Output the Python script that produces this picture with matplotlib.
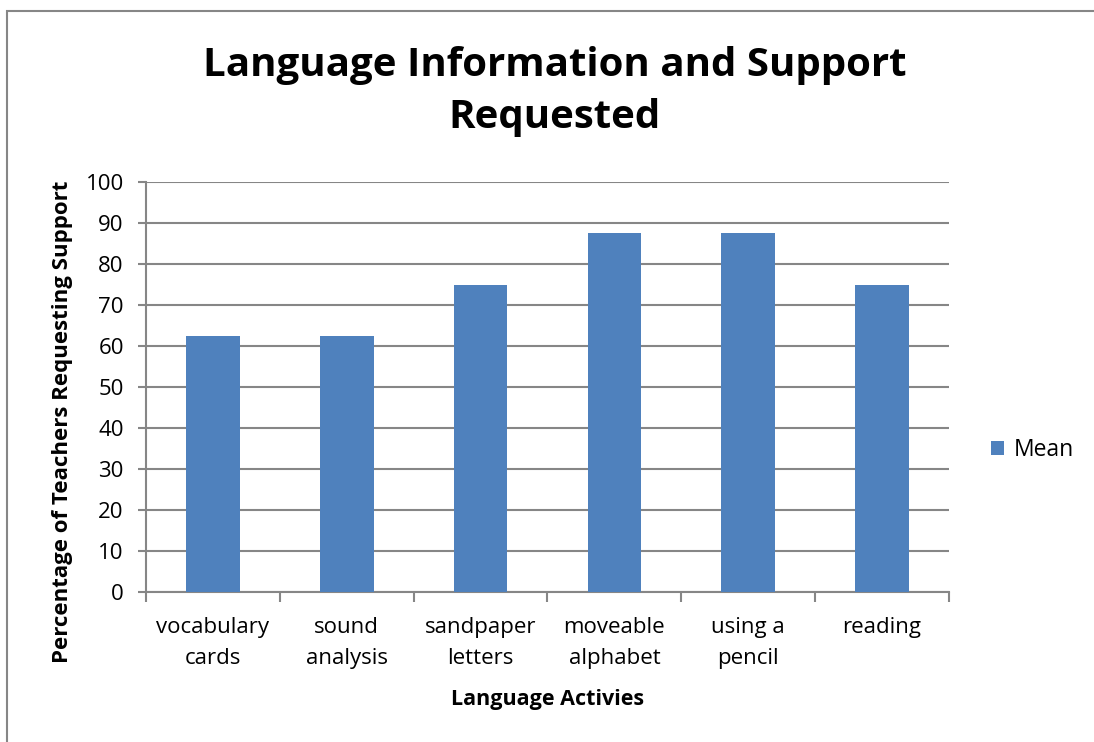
import matplotlib.pyplot as plt
from matplotlib.patches import Rectangle

plt.rcParams['font.family'] = ['Open Sans', 'DejaVu Sans']

activities = ['vocabulary\ncards', 'sound\nanalysis', 'sandpaper\nletters',
              'moveable\nalphabet', 'using a\npencil', 'reading']
mean_values = [62.5, 62.5, 75, 87.5, 87.5, 75]
y_ticks = [0, 10, 20, 30, 40, 50, 60, 70, 80, 90, 100]

bar_color = '#4f81bd'
grid_color = '#868686'

fig = plt.figure(figsize=(10.94, 7.42), dpi=100)

# outer chart border (open on right/bottom like the cropped original)
fig.patches.append(Rectangle((7 / 1094, -0.1), 1.2, (742 - 11) / 742 + 0.1,
                             transform=fig.transFigure, fill=False,
                             edgecolor=grid_color, linewidth=1.5))

ax = fig.add_axes([146 / 1094, 1 - 592 / 742, 803 / 1094, 410 / 742])
x = range(len(activities))
ax.bar(x, mean_values, width=0.4, color=bar_color, label='Mean', zorder=3)

ax.set_xlim(-0.5, len(activities) - 0.5)
ax.set_ylim(0, 100)
ax.set_yticks(y_ticks)
ax.tick_params(axis='y', length=6, width=1.5, color=grid_color,
               labelsize=16, pad=10)
ax.yaxis.grid(True, color=grid_color, linewidth=1.5, zorder=0)

# category boundaries get the tick marks, labels sit in the middle
ax.set_xticks([i + 0.5 for i in range(-1, len(activities))], minor=False)
ax.set_xticklabels([''] * (len(activities) + 1))
ax.tick_params(axis='x', length=7, width=1.5, color=grid_color)
ax.set_xticks(list(x), minor=True)
ax.set_xticklabels(activities, minor=True, fontsize=16, linespacing=1.6)
ax.tick_params(axis='x', which='minor', length=0, pad=18)

for s in ['top', 'right']:
    ax.spines[s].set_visible(False)
for s in ['left', 'bottom']:
    ax.spines[s].set_color(grid_color)
    ax.spines[s].set_linewidth(1.5)

ax.set_ylabel('Percentage of Teachers Requesting Support', fontsize=16,
              fontweight='bold', va='center')
ax.yaxis.set_label_coords(-0.1046, 0.415)
ax.set_xlabel('Language Activies', fontsize=15.5, fontweight='bold',
              va='center')
ax.xaxis.set_label_coords(0.5, -0.263)

fig.text(0.507, 0.877, 'Language Information and Support\nRequested',
         ha='center', va='center', fontsize=29, fontweight='bold',
         linespacing=1.45)

fig.legend(loc='center left', bbox_to_anchor=(970 / 1094, 1 - 450 / 742),
           frameon=False, fontsize=16.5, handlelength=0.6, handleheight=0.6,
           handletextpad=0.4)

fig.savefig('out.png', dpi=100)
